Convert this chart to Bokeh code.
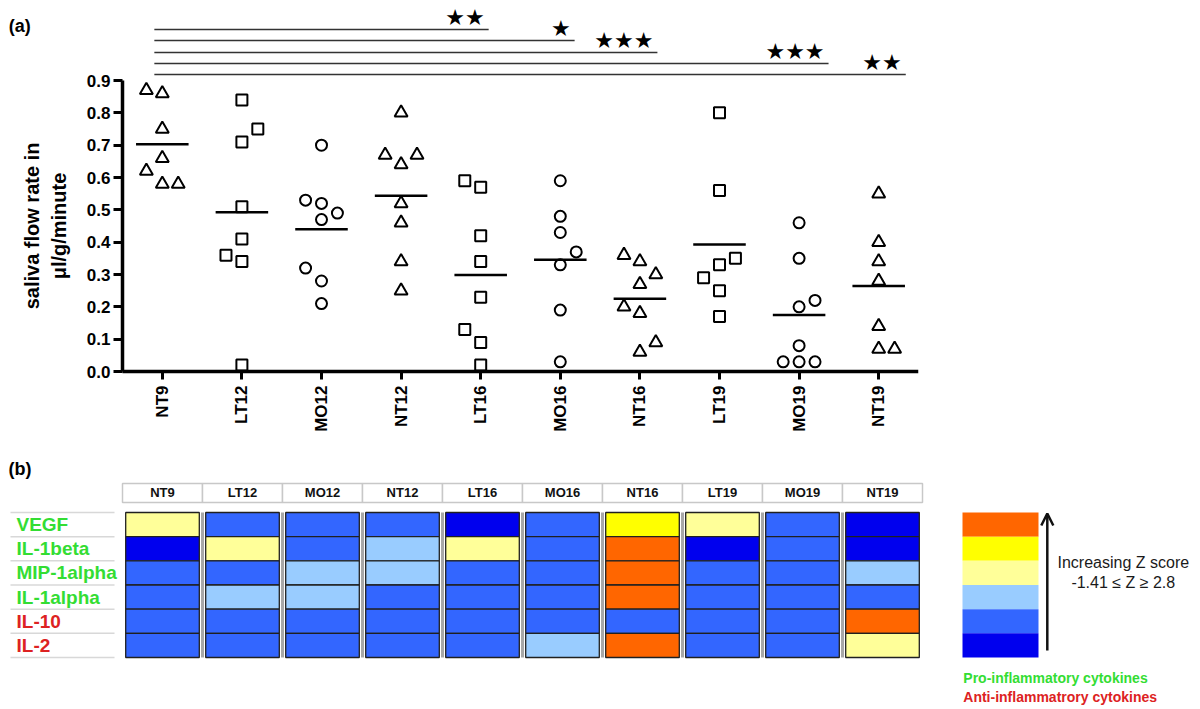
import math
import numpy as np
from bokeh.plotting import figure
from bokeh.layouts import column
from bokeh.models import (Range1d, FixedTicker, PrintfTickFormatter,
                          ColumnDataSource, Arrow, OpenHead)
from bokeh.core.properties import value
from bokeh.embed import file_html
from bokeh.resources import INLINE

# ---------------- data ----------------
groups = ["NT9", "LT12", "MO12", "NT12", "LT16", "MO16", "NT16", "LT19", "MO19", "NT19"]

flow = {
    "NT9":  [0.87, 0.86, 0.75, 0.66, 0.62, 0.58, 0.58],
    "LT12": [0.84, 0.75, 0.71, 0.51, 0.41, 0.36, 0.34, 0.02],
    "MO12": [0.70, 0.53, 0.52, 0.49, 0.47, 0.32, 0.28, 0.21],
    "NT12": [0.80, 0.67, 0.64, 0.67, 0.52, 0.46, 0.34, 0.25],
    "LT16": [0.59, 0.57, 0.42, 0.34, 0.23, 0.13, 0.09, 0.02],
    "MO16": [0.59, 0.48, 0.43, 0.37, 0.33, 0.19, 0.03],
    "NT16": [0.36, 0.34, 0.30, 0.27, 0.20, 0.18, 0.09, 0.06],
    "LT19": [0.80, 0.56, 0.35, 0.33, 0.29, 0.25, 0.17],
    "MO19": [0.46, 0.35, 0.22, 0.20, 0.08, 0.03, 0.03, 0.03],
    "NT19": [0.55, 0.40, 0.34, 0.28, 0.14, 0.07, 0.07],
}
y_ticks = [0.0, 0.1, 0.2, 0.3, 0.4, 0.5, 0.6, 0.7, 0.8, 0.9]

# significance comparisons against NT9
sig_targets = ["LT16", "MO16", "NT16", "MO19", "NT19"]
sig_stars = ["★★", "★", "★★★", "★★★", "★★"]

cytokines = ["VEGF", "IL-1beta", "MIP-1alpha", "IL-1alpha", "IL-10", "IL-2"]
cytokine_kind = ["pro", "pro", "pro", "pro", "anti", "anti"]
# z-score class (0 = lowest ... 5 = highest) per group, in cytokine order
zclass = {
    "NT9":  [3, 0, 1, 1, 1, 1],
    "LT12": [1, 3, 1, 2, 1, 1],
    "MO12": [1, 1, 2, 2, 1, 1],
    "NT12": [1, 2, 2, 1, 1, 1],
    "LT16": [0, 3, 1, 1, 1, 1],
    "MO16": [1, 1, 1, 1, 1, 2],
    "NT16": [4, 5, 5, 5, 1, 5],
    "LT19": [3, 0, 1, 1, 1, 1],
    "MO19": [1, 1, 1, 1, 1, 1],
    "NT19": [0, 0, 2, 1, 5, 3],
}

# ---------------- layout / style ----------------
slots = {
    "NT9":  [-1, 0, 0, 0, -1, 0, 1],
    "LT12": [0, 1, 0, 0, 0, -1, 0, 0],
    "MO12": [0, -1, 0, 1, 0, -1, 0, 0],
    "NT12": [0, -1, 0, 1, 0, 0, 0, 0],
    "LT16": [-1, 0, 0, 0, 0, -1, 0, 0],
    "MO16": [0, 0, 0, 1, 0, 0, 0],
    "NT16": [-1, 0, 1, 0, -1, 0, 1, 0],
    "LT19": [0, 0, 1, 0, -1, 0, 0],
    "MO19": [0, 0, 1, 0, 0, -1, 0, 1],
    "NT19": [0, 0, 0, 0, 0, 0, 1],
}
slot_w = 0.2
marker_of = {"NT": ("triangle", 13), "LT": ("square", 11), "MO": ("circle", 11)}
sig_end_off = [0.10, 0.18, 0.22, 0.37, 0.34]
sig_levels = [1.058, 1.024, 0.987, 0.953, 0.919]
palette = ["#0000EE", "#3366FF", "#99CCFF", "#FFFF99", "#FFFF00", "#FF6600"]
kind_color = {"pro": "#33DD33", "anti": "#DD2222"}
FONT = "Liberation Sans"
W = 1195
n = len(groups)
centers = [i + 0.5 for i in range(n)]

# ---------------- panel (a) ----------------
p1 = figure(width=W, height=455, x_range=Range1d(-122 / 79.6, n),
            y_range=Range1d(-0.2474, 1.1352),
            output_backend="svg", toolbar_location=None,
            min_border_left=0, min_border_right=W - 918, min_border_top=4,
            min_border_bottom=4, x_axis_location=None, y_axis_location=None)
p1.frame_align = False
p1.outline_line_color = None
p1.grid.visible = False

from bokeh.models import LinearAxis
ya = LinearAxis(fixed_location=0)
p1.add_layout(ya, "left")
xa = LinearAxis(fixed_location=0)
p1.add_layout(xa, "below")

ya.ticker = FixedTicker(ticks=y_ticks, minor_ticks=[])
ya.formatter = PrintfTickFormatter(format="%.1f")
ya.bounds = (0, 0.9)
ya.axis_line_width = 3.5
ya.major_tick_line_width = 3
ya.major_tick_out = 9
ya.major_tick_in = 0
ya.minor_tick_line_color = None
ya.major_label_text_font = FONT
ya.major_label_text_font_size = "17px"
ya.major_label_text_font_style = "bold"
ya.major_label_text_color = "black"
ya.major_label_standoff = 3
ya.axis_label = "saliva flow rate in\nμl/g/minute"
ya.axis_label_text_font = FONT
ya.axis_label_text_font_size = "20px"
ya.axis_label_text_font_style = "bold"
ya.axis_label_text_color = "black"
ya.axis_label_standoff = 14

xa.ticker = FixedTicker(ticks=centers, minor_ticks=[])
xa.major_label_overrides = {c: g for c, g in zip(centers, groups)}
xa.bounds = (0, n)
xa.major_label_orientation = math.pi / 2
xa.axis_line_width = 3.5
xa.major_tick_line_width = 3
xa.major_tick_out = 8
xa.major_tick_in = 0
xa.minor_tick_line_color = None
xa.major_label_text_font = FONT
xa.major_label_text_font_size = "17px"
xa.major_label_text_font_style = "bold"
xa.major_label_text_color = "black"
xa.major_label_standoff = 6

for gi, g in enumerate(groups):
    vals = flow[g]
    xs = [centers[gi] + s * slot_w for s in slots[g]]
    mk, sz = marker_of[g[:2]]
    src = ColumnDataSource(dict(x=xs, y=vals))
    p1.scatter("x", "y", source=src, marker=mk, size=sz, fill_color=None,
               line_color="black", line_width=2)
    m = float(np.mean(vals))
    p1.segment(x0=[centers[gi] - 0.33], x1=[centers[gi] + 0.33], y0=[m], y1=[m],
               line_color="black", line_width=2.5)

ref_idx = groups.index("NT9")
sx0 = [centers[ref_idx] - 0.1] * len(sig_targets)
sx1 = [centers[groups.index(t)] + o for t, o in zip(sig_targets, sig_end_off)]
p1.segment(x0=sx0, x1=sx1, y0=sig_levels, y1=sig_levels, line_color="#333333", line_width=1.5)
p1.text(x=[v - 0.05 for v in sx1], y=[v + 0.038 for v in sig_levels], text=sig_stars,
        text_align="right", text_baseline="middle", text_font=value("DejaVu Sans"),
        text_font_size="22px", text_color="black")

p1.text(x=[-1.43], y=[1.07], text=["(a)"], text_font=value(FONT), text_font_style="bold",
        text_font_size="18px", text_baseline="middle", text_align="left", text_color="black")

# ---------------- panel (b) ----------------
p2 = figure(width=W, height=252, x_range=Range1d(-1.525, (W - 122) / 80.0),
            y_range=Range1d(7.568, -2.858), output_backend="svg", toolbar_location=None,
            min_border=0, min_border_left=0, min_border_right=0, min_border_top=0,
            min_border_bottom=0, x_axis_location=None, y_axis_location=None)
p2.frame_align = False
p2.outline_line_color = None
p2.grid.visible = False

p2.text(x=[-1.425], y=[-2.32], text=["(b)"], text_font=value(FONT), text_font_style="bold",
        text_font_size="18px", text_baseline="middle", text_color="black")

p2.rect(x=centers, y=[-1.307] * n, width=1.0, height=0.786, fill_color="white",
        line_color="#c8c8c8", line_width=1.5)
p2.text(x=centers, y=[-1.307] * n, text=groups, text_align="center",
        text_baseline="middle", text_font=value(FONT), text_font_style="bold",
        text_font_size="13px", text_color="#111111")

# label table lines
p2.segment(x0=[-1.4] * 7, x1=[-0.1] * 7, y0=[r - 0.5 for r in range(7)],
           y1=[r - 0.5 for r in range(7)], line_color="#d8d8d8", line_width=1.5)
p2.text(x=[-1.325] * len(cytokines), y=list(range(len(cytokines))), text=cytokines,
        text_color=[kind_color[k] for k in cytokine_kind], text_align="left",
        text_baseline="middle", text_font=value(FONT), text_font_style="bold",
        text_font_size="19px")

cx, cy, cc = [], [], []
for gi, g in enumerate(groups):
    for r, z in enumerate(zclass[g]):
        cx.append(centers[gi])
        cy.append(r)
        cc.append(palette[z])
p2.segment(x0=list(range(1, n)), x1=list(range(1, n)),
           y0=[-0.5] * (n - 1), y1=[5.5] * (n - 1),
           line_color="#a8a8a8", line_width=3)
p2.rect(x=cx, y=cy, width=0.92, height=1, fill_color=cc, line_color="#202020", line_width=1.3)

# colour key
p2.rect(x=[10.975] * 6, y=list(range(6)), width=0.95, height=1,
        fill_color=[palette[5 - r] for r in range(6)], line_color=None)
p2.add_layout(Arrow(end=OpenHead(size=12, line_width=2.5, line_color="#111111"),
                    x_start=11.56, y_start=5.21, x_end=11.56, y_end=-0.46,
                    line_width=2.5, line_color="#111111"))
p2.text(x=[12.51, 12.51], y=[1.57, 2.40], text=["Increasing Z score", "-1.41 ≤ Z ≥ 2.8"],
        text_align="center", text_baseline="middle", text_font=value(FONT),
        text_font_size="16px", text_color="#1a1a1a")
p2.text(x=[10.51, 10.51], y=[6.33, 7.15],
        text=["Pro-inflammatory cytokines", "Anti-inflammatrory cytokines"],
        text_color=[kind_color["pro"], kind_color["anti"]], text_align="left",
        text_baseline="middle", text_font=value(FONT), text_font_style="bold",
        text_font_size="14px")

layout = column(p1, p2, spacing=0)
open("out.html", "w").write(file_html(layout, INLINE))
